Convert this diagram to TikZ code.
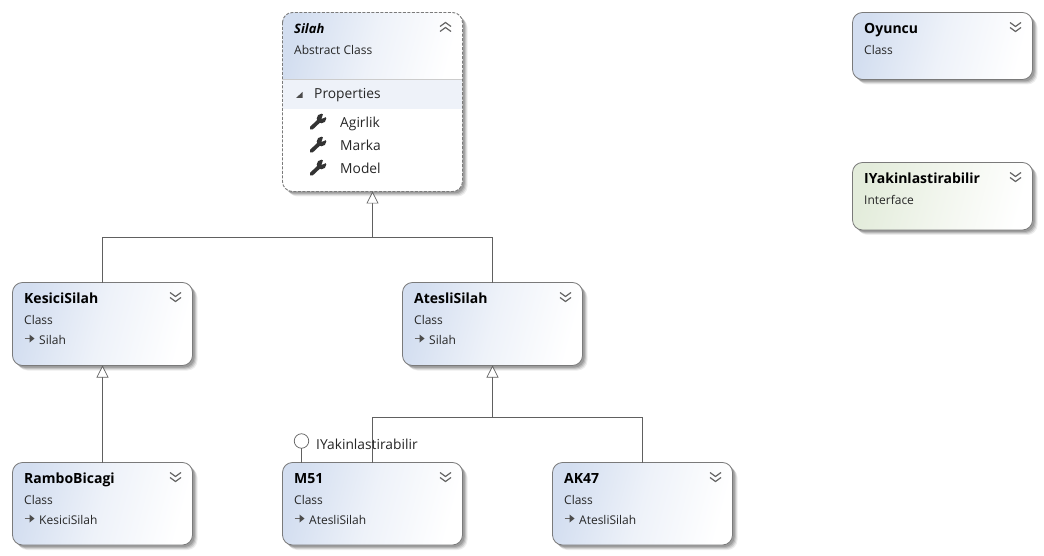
\documentclass[tikz,border=0pt]{standalone}
\usepackage{fontspec}
\setmainfont{Open Sans}
\usetikzlibrary{arrows.meta,calc}
\definecolor{boxline}{HTML}{7A7A7A}
\definecolor{classblue}{HTML}{D3DEF0}
\definecolor{classmid}{HTML}{EEF2F9}
\definecolor{ifacegreen}{HTML}{E3ECDB}
\definecolor{ifacemid}{HTML}{F2F6EE}
\definecolor{connline}{HTML}{606060}
\definecolor{chevcol}{HTML}{666666}
\definecolor{bandcol}{HTML}{EEF2F9}
\tikzset{
  box/.style={draw=boxline,line width=0.8pt,rounded corners=10pt,inner sep=0pt,outer sep=0pt,anchor=north west},
  shadowlayer/.style={fill=black,draw=none,rounded corners=10pt},
  titletext/.style={font=\fontsize{14}{16}\selectfont\bfseries,anchor=base west,inner sep=0pt,text=black},
  subtext/.style={font=\fontsize{12}{14}\selectfont,anchor=base west,inner sep=0pt,text=black!85},
  proptext/.style={font=\fontsize{13.8}{16}\selectfont,anchor=base west,inner sep=0pt,text=black!85},
  chev/.style={draw=chevcol,line width=1.2pt},
  conn/.style={draw=connline,line width=0.7pt},
  inherit/.style={conn,-{Triangle[open,fill=white,length=12pt,width=12pt]}},
}
\newcommand{\shadowof}[1]{%
  \foreach \d/\o in {5/0.07,4/0.10,3/0.13,2/0.15}{
    \path[shadowlayer,opacity=\o] ([shift={(\d,\d)}]#1.north west) rectangle ([shift={(\d,\d)}]#1.south east);
  }}
\newcommand{\chevdown}[1]{%
  \draw[chev] ([shift={(-22.5,10)}]#1.north east) -- ++(5.5,4) -- ++(5.5,-4);
  \draw[chev] ([shift={(-22.5,15)}]#1.north east) -- ++(5.5,4) -- ++(5.5,-4);}
\newcommand{\chevup}[1]{%
  \draw[chev] ([shift={(-22.5,14)}]#1.north east) -- ++(5.5,-4) -- ++(5.5,4);
  \draw[chev] ([shift={(-22.5,19)}]#1.north east) -- ++(5.5,-4) -- ++(5.5,4);}
% name, x, y, w, h, base colour, mid colour, title, subtitle
\newcommand{\umlbox}[9]{%
  \path (#2,#3) node[anchor=north west,minimum width=#4pt,minimum height=#5pt,inner sep=0pt,outer sep=0pt] (#1sh) {};
  \shadowof{#1sh}
  \node[box,minimum width=#4pt,minimum height=#5pt,shading=axis,left color=#6,right color=white,middle color=#7,shading angle=75] (#1) at (#2,#3) {};
  \node[titletext] (#1title) at ([shift={(11.5,21.2)}]#1.north west) {#8};
  \node[subtext] (#1sub) at ([shift={(11.5,41.7)}]#1.north west) {#9};
  \chevdown{#1}}
\newcommand{\basetext}[2]{%
  \draw[draw=chevcol,line width=1.7pt] ([shift={(12,56)}]#1.north west) -- ++(7,0);
  \fill[fill=black!70] ([shift={(17,52)}]#1.north west) -- ++(5,4) -- ++(-5,4) -- cycle;
  \node[subtext] (#1base) at ([shift={(26.5,61.7)}]#1.north west) {#2};}
\newcommand{\wrenchat}[1]{%
  \begin{scope}[shift={(#1)}]
    \draw[line width=3.8pt,line cap=round,draw=black!80] (-6.5,6) -- (2,-2);
    \fill[black!80] (3.5,-3.5) circle (4.8);
    \fill[white] (3.6,-3.2) -- (9.5,-5.6) -- (5.6,-9.5) -- cycle;
  \end{scope}}
\begin{document}
\begin{tikzpicture}[x=1pt,y=-1pt]
\useasboundingbox (0,0) rectangle (1044,556);
\fill[white] (0,0) rectangle (1044,556);

% Silah
\path (282.5,12.5) node[anchor=north west,minimum width=180pt,minimum height=179pt,inner sep=0pt,outer sep=0pt] (silahsh) {};
\shadowof{silahsh}
\node[anchor=north west,minimum width=180pt,minimum height=179pt,inner sep=0pt,outer sep=0pt,rounded corners=10pt,fill=white] (silah) at (282.5,12.5) {};
\shade[left color=classblue,right color=white,middle color=classmid,shading angle=75,rounded corners=10pt]
  (282.5,79.5) -- (282.5,12.5) -- (462.5,12.5) -- (462.5,79.5) [sharp corners] -- cycle;
\fill[bandcol] (283,80) rectangle (462,109);
\draw[draw=black!20,line width=0.7pt] (283,79.5) -- (462,79.5);
\draw[draw=boxline,line width=0.9pt,dash pattern=on 3pt off 1.5pt,rounded corners=10pt] (silah.north west) rectangle (silah.south east);
\node[titletext,font=\fontsize{13}{15}\selectfont\bfseries\itshape] (silahtitle) at (294,33.7) {Silah};
\node[subtext] (silahsub) at (294,54.2) {Abstract Class};
\chevup{silah}
\fill[black!70] (296,98) -- (302.5,98) -- (302.5,92) -- cycle;
\node[proptext] (props) at (314,98.7) {Properties};
\wrenchat{318,122}
\node[proptext] (agirlik) at (340,127.2) {Agirlik};
\wrenchat{318,145}
\node[proptext] (marka) at (340,150.2) {Marka};
\wrenchat{318,168}
\node[proptext] (model) at (340,173.2) {Model};

% Free boxes
\umlbox{oyuncu}{852.5}{12.5}{180}{67}{classblue}{classmid}{Oyuncu}{Class}
\umlbox{iyak}{852.5}{162.5}{180}{67.5}{ifacegreen}{ifacemid}{IYakinlastirabilir}{Interface}

% Classes
\umlbox{kesici}{12.5}{282.5}{180}{83}{classblue}{classmid}{KesiciSilah}{Class}
\basetext{kesici}{Silah}
\umlbox{atesli}{402.5}{282.5}{180}{83}{classblue}{classmid}{AtesliSilah}{Class}
\basetext{atesli}{Silah}
\umlbox{rambo}{12.5}{462.5}{180}{82.5}{classblue}{classmid}{RamboBicagi}{Class}
\basetext{rambo}{KesiciSilah}
\umlbox{mf}{282.5}{462.5}{180}{82.5}{classblue}{classmid}{M51}{Class}
\basetext{mf}{AtesliSilah}
\umlbox{ak}{552.5}{462.5}{180}{82.5}{classblue}{classmid}{AK47}{Class}
\basetext{ak}{AtesliSilah}

% Connectors
\coordinate (busa) at (372.5,237.5);
\coordinate (busb) at (492.5,417.5);
\draw[inherit] (kesici.north) |- (busa) -- (silah.south);
\draw[conn] (atesli.north) |- (busa);
\draw[inherit] (rambo.north) -- (kesici.south);
\draw[inherit] (mf.north) |- (busb) -- (atesli.south);
\draw[conn] (ak.north) |- (busb);

% Lollipop
\node[circle,draw=connline,line width=0.7pt,fill=white,minimum size=14.5pt,inner sep=0pt,outer sep=0pt] (lolli) at (301.5,441) {};
\coordinate (lollifoot) at (301.5,462.5);
\draw[conn] (lolli.south) -- (lollifoot);
\node[subtext,font=\fontsize{13.8}{16}\selectfont] (lollilabel) at (316,449) {IYakinlastirabilir};
\end{tikzpicture}
\end{document}
